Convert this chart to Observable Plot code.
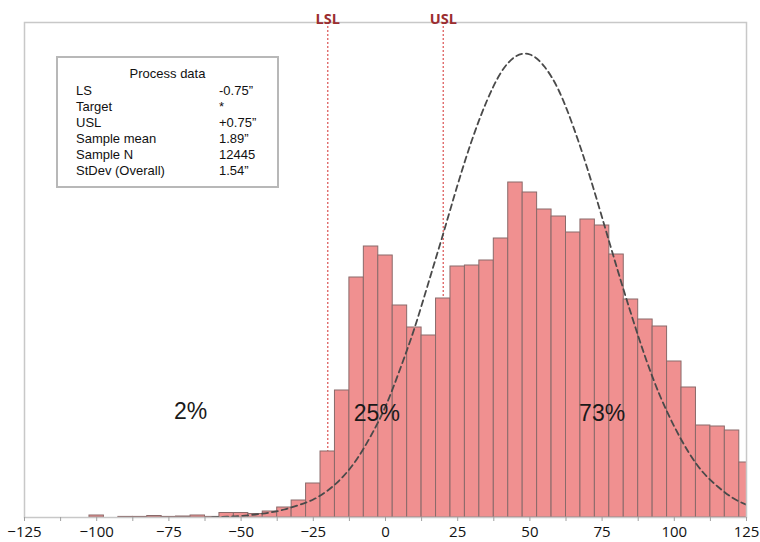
<!DOCTYPE html>
<html>
<head>
<meta charset="utf-8">
<script src="https://cdn.jsdelivr.net/npm/d3@7"></script>
<script src="https://cdn.jsdelivr.net/npm/@observablehq/plot@0.6"></script>
<style>
  html, body { margin: 0; padding: 0; background: #fff; }
  #wrap { position: relative; width: 760px; height: 542px; }
  #legend { position: absolute; left: 56px; top: 56px; width: 219px; height: 128px;
            border: 2px solid #b8b8b8; font-family: "Liberation Sans", Arial, sans-serif;
            font-size: 13px; color: #111; }
  #legend div { position: absolute; line-height: 16px; white-space: nowrap; }
</style>
</head>
<body>
<div id="wrap"><div id="legend"></div></div>
<script>
// Histogram bins (centers, bin width 5) and bar heights (relative frequency units)
const binCenters = [-100, -95, -90, -85, -80, -75, -70, -65, -60, -55, -50, -45, -40, -35, -30, -25,
  -20, -15, -10, -5, 0, 5, 10, 15, 20, 25, 30, 35, 40, 45, 50, 55, 60, 65, 70, 75, 80, 85, 90, 95,
  100, 105, 110, 115, 120, 125];
const binCounts = [2, 0, 0.6, 0.6, 1.5, 0.6, 1, 2, 0.6, 4.5, 4.5, 3.5, 6, 10, 17, 34,
  66, 127, 240, 271, 262, 212, 190, 182, 219, 251, 252, 257, 279, 335, 325, 308, 301, 285, 298, 292,
  263, 218, 198, 191, 156, 130, 92, 91, 87, 55];
const binWidth = 5;

// Fitted normal curve
const curveX = [-60, -55, -50, -45, -40, -35, -30, -25, -20, -15, -10, -5, 0, 5, 10, 15, 20, 25, 30,
  35, 40, 45, 50, 55, 60, 65, 70, 75, 80, 85, 90, 95, 100, 105, 110, 115, 120, 125];
const curveY = [0.3, 0.8, 1.5, 3, 5, 8, 12.5, 18, 27, 40, 58, 82, 111, 148, 189, 236, 284, 333, 378,
  416, 445, 461, 463, 451, 427, 391, 348, 300, 251, 204, 160, 122, 91, 65, 45, 31, 20, 12.7];

// Specification limits
const specValues = [-20, 20];
const specLabels = ["LSL", "USL"];

// Share annotations
const shareLabels = ["2%", "25%", "73%"];
const shareX = [-67.5, -3, 75];
const shareY = [106, 104, 104];

// Axis ticks
const majorTicks = [-125, -100, -75, -50, -25, 0, 25, 50, 75, 100, 125];
const minorTicks = d3.range(-125, 125.01, 12.5);

// Process data table
const legendTitle = "Process data";
const legendKeys = ["LS", "Target", "USL", "Sample mean", "Sample N", "StDev (Overall)"];
const legendVals = ["-0.75\u201d", "*", "+0.75\u201d", "1.89\u201d", "12445", "1.54\u201d"];

const bins = binCenters.map((c, i) => ({x1: c - binWidth / 2, x2: c + binWidth / 2, y: binCounts[i]}));
const curve = curveX.map((x, i) => ({x, y: curveY[i]}));
const specs = specValues.map((x, i) => ({x, label: specLabels[i]}));
const shares = shareLabels.map((t, i) => ({x: shareX[i], y: shareY[i], t}));

const chart = Plot.plot({
  width: 760,
  height: 542,
  marginLeft: 24,
  marginRight: 14,
  marginTop: 22,
  marginBottom: 25,
  style: {background: "transparent"},
  x: {domain: [-125, 125]},
  y: {domain: [0, 495], axis: null},
  marks: [
    Plot.ruleX(specs, {x: "x", stroke: "#e06a6a", strokeWidth: 1.4, strokeDasharray: "2,2"}),
    Plot.rectY(bins, {x1: "x1", x2: "x2", y: "y", fill: "#f09090", stroke: "#8a6a6a", strokeWidth: 1, clip: "frame"}),
    Plot.line(curve, {x: "x", y: "y", stroke: "#4a4a4a", strokeWidth: 1.8, strokeDasharray: "6,4", curve: "natural", clip: "frame"}),
    Plot.text(shares, {x: "x", y: "y", text: "t", fontSize: 23, fill: "#1a1a1a", fontFamily: "Liberation Sans, Arial, sans-serif"}),
    Plot.frame({stroke: "#c8c8c8", strokeWidth: 1.5}),
    Plot.text(specs, {x: "x", frameAnchor: "top", dy: -9, text: "label", fill: "#9b2d30", fontWeight: "bold", fontSize: 14.5, fontFamily: "Open Sans, sans-serif"}),
    Plot.axisX({ticks: minorTicks, tickSize: 4, stroke: "#a0a0a0", tickFormat: () => "", label: null}),
    Plot.axisX({ticks: majorTicks, tickSize: 0, tickPadding: 9, fontSize: 15, fill: "#111", label: null, fontFamily: "Open Sans, sans-serif"})
  ]
});
document.getElementById("wrap").prepend(chart);

// Process data box
const legend = document.getElementById("legend");
const title = document.createElement("div");
title.textContent = legendTitle;
title.style.left = "0px"; title.style.width = "219px"; title.style.textAlign = "center"; title.style.top = "8px";
legend.appendChild(title);
legendKeys.forEach((k, i) => {
  const a = document.createElement("div");
  a.textContent = k; a.style.left = "18px"; a.style.top = (25 + i * 15.9) + "px";
  const b = document.createElement("div");
  b.textContent = legendVals[i]; b.style.left = "161px"; b.style.top = (25 + i * 15.9) + "px";
  legend.appendChild(a); legend.appendChild(b);
});
</script>
</body>
</html>
